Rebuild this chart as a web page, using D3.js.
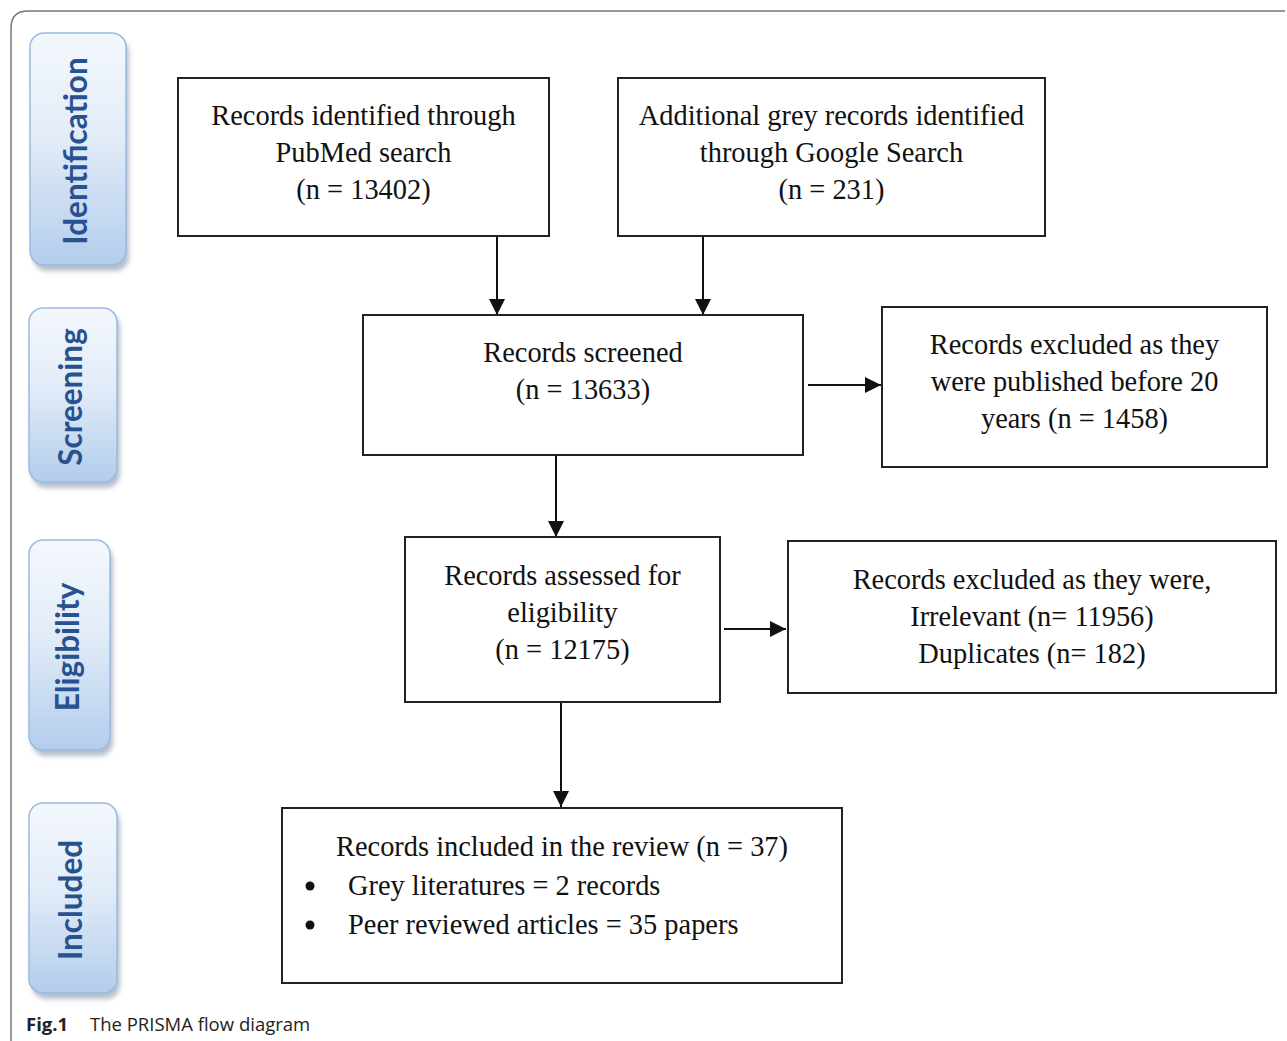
<!DOCTYPE html>
<html>
<head>
<meta charset="utf-8">
<script src="https://cdn.jsdelivr.net/npm/d3@7"></script>
<style>
  body { margin: 0; background: #fff; }
  svg { display: block; }
</style>
</head>
<body>
<svg id="chart" width="1287" height="1041"></svg>
<script>
// stage labels down the left side
var stages = ["Identification", "Screening", "Eligibility", "Included"];

// text of each box in the flow
var boxIds = ["pubmed", "google", "screened", "excl20", "assessed", "exclIrr", "included"];
var boxLines = [
    ["Records identified through", "PubMed search", "(n = 13402)"],
    ["Additional grey records identified", "through Google Search", "(n = 231)"],
    ["Records screened", "(n = 13633)"],
    ["Records excluded as they", "were published before 20", "years (n = 1458)"],
    ["Records assessed for", "eligibility", "(n = 12175)"],
    ["Records excluded as they were,", "Irrelevant (n= 11956)", "Duplicates (n= 182)"],
    ["Records included in the review (n = 37)"]
];
var bullets = ["Grey literatures = 2 records", "Peer reviewed articles = 35 papers"];

// arrows between boxes
var links = [
    {from: "pubmed", to: "screened"},
    {from: "google", to: "screened"},
    {from: "screened", to: "excl20"},
    {from: "screened", to: "assessed"},
    {from: "assessed", to: "exclIrr"},
    {from: "assessed", to: "included"}
];

var captionBold = "Fig.1";
var captionText = "The PRISMA flow diagram";

// ---- layout (pixel geometry, separate from the data) ----
var stageBoxes = [
    {x: 30, y: 33, w: 96, h: 232},
    {x: 29, y: 308, w: 88, h: 174},
    {x: 29, y: 540, w: 81, h: 210},
    {x: 29, y: 803, w: 88, h: 190}
];
var boxGeom = {
    pubmed:   {x: 178, y: 78,  w: 371, h: 158, top: 115, gap: 37},
    google:   {x: 618, y: 78,  w: 427, h: 158, top: 115, gap: 37},
    screened: {x: 363, y: 315, w: 440, h: 140, top: 352, gap: 37},
    excl20:   {x: 882, y: 307, w: 385, h: 160, top: 344, gap: 37},
    assessed: {x: 405, y: 537, w: 315, h: 165, top: 575, gap: 37},
    exclIrr:  {x: 788, y: 541, w: 488, h: 152, top: 579, gap: 37},
    included: {x: 282, y: 808, w: 560, h: 175, top: 846, gap: 39}
};
// arrow anchor positions
var linkGeom = [
    {x1: 497, y1: 236, x2: 497, y2: 315},
    {x1: 703, y1: 236, x2: 703, y2: 315},
    {x1: 808, y1: 385, x2: 881, y2: 385},
    {x1: 556, y1: 455, x2: 556, y2: 537},
    {x1: 724, y1: 629, x2: 786, y2: 629},
    {x1: 561, y1: 702, x2: 561, y2: 807}
];

var serif = "'Liberation Serif', 'Times New Roman', serif";
var svg = d3.select("#chart");
var defs = svg.append("defs");

var grad = defs.append("linearGradient")
    .attr("id", "stageGrad")
    .attr("x1", 0).attr("y1", 0).attr("x2", 0).attr("y2", 1);
grad.append("stop").attr("offset", "0%").attr("stop-color", "#f4f8fd");
grad.append("stop").attr("offset", "45%").attr("stop-color", "#e2ecf8");
grad.append("stop").attr("offset", "100%").attr("stop-color", "#b3cdec");

var blur = defs.append("filter").attr("id", "shadow")
    .attr("x", "-20%").attr("y", "-10%").attr("width", "150%").attr("height", "130%");
blur.append("feGaussianBlur").attr("stdDeviation", 2.5);

defs.append("marker")
    .attr("id", "head")
    .attr("viewBox", "0 0 10 10")
    .attr("refX", 10).attr("refY", 5)
    .attr("markerWidth", 8).attr("markerHeight", 8)
    .attr("markerUnits", "strokeWidth")
    .attr("orient", "auto")
    .append("path")
    .attr("d", "M0,0 L10,5 L0,10 Z")
    .attr("fill", "#111");

// outer frame
svg.append("path")
    .attr("d", "M11,1041 L11,28 Q11,11 28,11 L1285,11")
    .attr("fill", "none")
    .attr("stroke", "#777")
    .attr("stroke-width", 1.5);

// stage labels
var st = svg.selectAll(".stage")
    .data(stages)
    .enter().append("g")
    .attr("class", "stage");

st.append("rect")
    .attr("x", function(d, i) { return stageBoxes[i].x + 3; })
    .attr("y", function(d, i) { return stageBoxes[i].y + 6; })
    .attr("width", function(d, i) { return stageBoxes[i].w; })
    .attr("height", function(d, i) { return stageBoxes[i].h; })
    .attr("rx", 14).attr("ry", 14)
    .attr("fill", "#9aa9bb")
    .attr("opacity", 0.75)
    .attr("filter", "url(#shadow)");

st.append("rect")
    .attr("x", function(d, i) { return stageBoxes[i].x; })
    .attr("y", function(d, i) { return stageBoxes[i].y; })
    .attr("width", function(d, i) { return stageBoxes[i].w; })
    .attr("height", function(d, i) { return stageBoxes[i].h; })
    .attr("rx", 14).attr("ry", 14)
    .attr("fill", "url(#stageGrad)")
    .attr("stroke", "#9bbbe0")
    .attr("stroke-width", 1.5);

st.append("text")
    .attr("transform", function(d, i) {
        var b = stageBoxes[i];
        return "translate(" + (b.x + b.w / 2 - 3) + "," + (b.y + b.h / 2 + 2) + ") rotate(-90)";
    })
    .attr("text-anchor", "middle")
    .attr("dominant-baseline", "central")
    .style("font-family", "Lato, 'Open Sans', sans-serif")
    .style("font-weight", "bold")
    .style("font-size", "31.5px")
    .attr("fill", "#28528f")
    .text(function(d) { return d; });

// arrows
svg.selectAll(".link")
    .data(links)
    .enter().append("line")
    .attr("class", "link")
    .attr("x1", function(d, i) { return linkGeom[i].x1; })
    .attr("y1", function(d, i) { return linkGeom[i].y1; })
    .attr("x2", function(d, i) { return linkGeom[i].x2; })
    .attr("y2", function(d, i) { return linkGeom[i].y2; })
    .attr("stroke", "#111")
    .attr("stroke-width", 2)
    .attr("marker-end", "url(#head)");

// boxes
var bx = svg.selectAll(".box")
    .data(boxIds)
    .enter().append("g")
    .attr("class", "box");

bx.append("rect")
    .attr("x", function(d) { return boxGeom[d].x; })
    .attr("y", function(d) { return boxGeom[d].y; })
    .attr("width", function(d) { return boxGeom[d].w; })
    .attr("height", function(d) { return boxGeom[d].h; })
    .attr("fill", "#fff")
    .attr("stroke", "#222")
    .attr("stroke-width", 2);

bx.each(function(d, i) {
    var g = d3.select(this), b = boxGeom[d];
    g.selectAll("text.line")
        .data(boxLines[i])
        .enter().append("text")
        .attr("class", "line")
        .attr("x", b.x + b.w / 2)
        .attr("y", function(t, j) { return b.top + j * b.gap; })
        .attr("text-anchor", "middle")
        .attr("dominant-baseline", "central")
        .style("font-family", serif)
        .style("font-size", "28.4px")
        .attr("fill", "#111")
        .text(function(t) { return t; });
});

// bullet list in the last box
var inc = boxGeom.included;
var bl = svg.selectAll(".bullet")
    .data(bullets)
    .enter().append("g")
    .attr("class", "bullet");
bl.append("circle")
    .attr("cx", 310)
    .attr("cy", function(d, i) { return inc.top + (i + 1) * inc.gap + 1; })
    .attr("r", 4.5)
    .attr("fill", "#111");
bl.append("text")
    .attr("x", 348)
    .attr("y", function(d, i) { return inc.top + (i + 1) * inc.gap; })
    .attr("dominant-baseline", "central")
    .style("font-family", serif)
    .style("font-size", "28.4px")
    .attr("fill", "#111")
    .text(function(d) { return d; });

// caption
var cap = svg.append("text")
    .attr("x", 26)
    .attr("y", 1031)
    .style("font-family", "'Open Sans', sans-serif")
    .style("font-size", "18.5px")
    .attr("fill", "#222");
cap.append("tspan").style("font-weight", "bold").text(captionBold);
cap.append("tspan").attr("x", 90).text(captionText);
</script>
</body>
</html>
